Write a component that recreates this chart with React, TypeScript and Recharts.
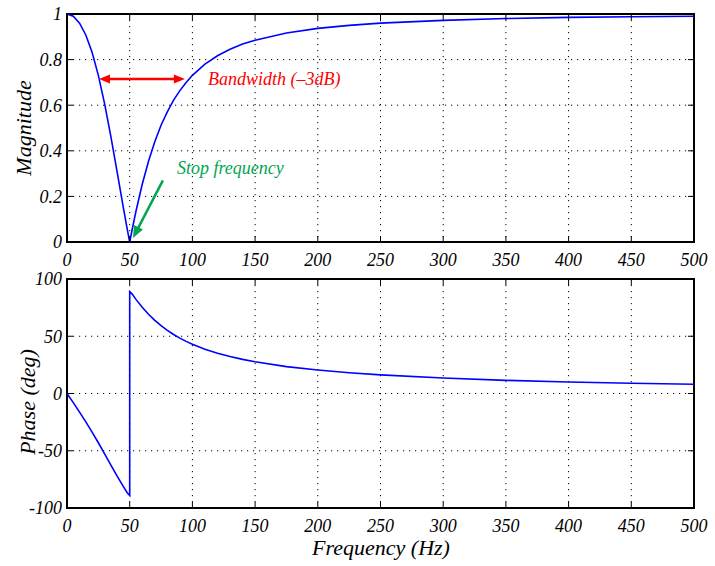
import React from "react";
import {
  LineChart,
  Line,
  XAxis,
  YAxis,
  CartesianGrid,
  ReferenceArea,
  ReferenceLine,
} from "recharts";

// frequency response of the 50 Hz notch
const freqHz = [
  0, 5, 10, 15, 20, 25, 30, 35, 40, 45, 48, 50, 50, 52, 55, 60, 65, 70, 75,
  80, 85, 90, 95, 100, 110, 120, 130, 140, 150, 175, 200, 225, 250, 300, 350,
  400, 450, 500,
];
const magnitude = [
  1, 0.99, 0.96, 0.908, 0.832, 0.731, 0.606, 0.462, 0.306, 0.149, 0.058, 0, 0,
  0.056, 0.135, 0.253, 0.354, 0.44, 0.512, 0.571, 0.622, 0.664, 0.7, 0.731,
  0.78, 0.817, 0.845, 0.868, 0.885, 0.917, 0.937, 0.95, 0.96, 0.972, 0.98,
  0.985, 0.988, 0.99,
];
const phaseDeg = [
  0, -8, -16.3, -24.8, -33.7, -43, -52.7, -62.5, -72.2, -81.4, -86.7, -89, 89,
  86.8, 82.2, 75.3, 69.2, 63.9, 59.2, 55.1, 51.5, 48.4, 45.5, 43, 38.7, 35.2,
  32.3, 29.8, 27.7, 23.5, 20.5, 18.1, 16.3, 13.5, 11.5, 10.1, 8.95, 8.05,
];

const freqTicks = [0, 50, 100, 150, 200, 250, 300, 350, 400, 450, 500];
const magTicks = [0, 0.2, 0.4, 0.6, 0.8, 1];
const phaseTicks = [-100, -50, 0, 50, 100];

// annotation anchors (data coordinates)
const bandwidthEdges = [25.5, 94];
const bandwidthLevel = 0.715;
const stopArrowFrom = { x: 76.5, y: 0.27 };
const stopArrowTo = { x: 52.6, y: 0.018 };

const data = freqHz.map((f, i) => ({
  f,
  mag: magnitude[i],
  phase: phaseDeg[i],
}));

const FONT = "'Liberation Serif', 'Times New Roman', serif";
const textStyle = { fontFamily: FONT, fontStyle: "italic" };
const PLOT_LEFT = 67;
const PLOT_RIGHT = 694;
const TICK_LEN = 6;
const X_MARGIN = 11;
const Y_MARGIN = 5;

const makeXTick = (plotTop: number) => (props: any) => {
  const { x, y, payload } = props;
  const axisY = y - X_MARGIN;
  return (
    <g>
      <line x1={x} x2={x} y1={axisY} y2={axisY - TICK_LEN} stroke='#000' />
      <line x1={x} x2={x} y1={plotTop} y2={plotTop + TICK_LEN} stroke='#000' />
      <text
        x={x}
        y={y}
        dy='0.71em'
        textAnchor='middle'
        style={{ ...textStyle, fontSize: 18 }}
        fill='#000'
      >
        {payload.value}
      </text>
    </g>
  );
};

const YTick = (props: any) => {
  const { x, y, payload } = props;
  return (
    <g>
      <line x1={PLOT_LEFT} x2={PLOT_LEFT + TICK_LEN} y1={y} y2={y} stroke='#000' />
      <line x1={PLOT_RIGHT} x2={PLOT_RIGHT - TICK_LEN} y1={y} y2={y} stroke='#000' />
      <text
        x={x}
        y={y}
        dy='0.355em'
        textAnchor='end'
        style={{ ...textStyle, fontSize: 18 }}
        fill='#000'
      >
        {payload.value}
      </text>
    </g>
  );
};

const head = (x: number, y: number, ang: number, len: number, w: number) => {
  const bx = x - len * Math.cos(ang);
  const by = y - len * Math.sin(ang);
  const px = (w / 2) * -Math.sin(ang);
  const py = (w / 2) * Math.cos(ang);
  return `${x},${y} ${bx + px},${by + py} ${bx - px},${by - py}`;
};

const DoubleArrow = (props: any) => {
  const { x1, y1, x2, y2 } = props;
  const ang = Math.atan2(y2 - y1, x2 - x1);
  return (
    <g>
      <line x1={x1 + 6} y1={y1} x2={x2 - 6} y2={y2} stroke='#ff0000' strokeWidth={2.5} />
      <polygon points={head(x2, y2, ang, 11, 9)} fill='#ff0000' />
      <polygon points={head(x1, y1, ang + Math.PI, 11, 9)} fill='#ff0000' />
    </g>
  );
};

const SingleArrow = (props: any) => {
  const { x1, y1, x2, y2 } = props;
  const ang = Math.atan2(y2 - y1, x2 - x1);
  return (
    <g>
      <line
        x1={x1}
        y1={y1}
        x2={x2 - 8 * Math.cos(ang)}
        y2={y2 - 8 * Math.sin(ang)}
        stroke='#00a651'
        strokeWidth={2.5}
      />
      <polygon points={head(x2, y2, ang, 12, 10)} fill='#00a651' />
    </g>
  );
};

const gridProps = {
  stroke: "#000",
  strokeDasharray: "1.2 4.8",
  strokeWidth: 1,
};

const App = () => {
  return (
    <div style={{ position: "absolute", left: 0, top: 0, width: 715, height: 566, background: "#fff" }}>
      <div style={{ position: "absolute", left: 0, top: 0 }}>
        <LineChart
          width={715}
          height={270}
          data={data}
          margin={{ top: 14, right: 21, bottom: 0, left: 17 }}
        >
          <CartesianGrid {...gridProps} />
          <XAxis
            dataKey='f'
            type='number'
            domain={[0, 500]}
            ticks={freqTicks}
            interval={0}
            height={28}
            tickSize={0}
            tickMargin={X_MARGIN}
            axisLine={false}
            tickLine={false}
            tick={makeXTick(14)}
          />
          <YAxis
            type='number'
            domain={[0, 1]}
            ticks={magTicks}
            interval={0}
            width={50}
            tickSize={0}
            tickMargin={Y_MARGIN}
            axisLine={false}
            tickLine={false}
            tick={YTick}
          />
          <Line
            dataKey='mag'
            type='linear'
            stroke='#0000ff'
            strokeWidth={1.6}
            dot={false}
            isAnimationActive={false}
          />
          <ReferenceLine
            segment={[
              { x: bandwidthEdges[0], y: bandwidthLevel },
              { x: bandwidthEdges[1], y: bandwidthLevel },
            ]}
            shape={DoubleArrow}
          />
          <ReferenceLine
            segment={[stopArrowFrom, stopArrowTo]}
            shape={SingleArrow}
          />
          <ReferenceArea
            x1={0}
            x2={500}
            y1={0}
            y2={1}
            fill='none'
            stroke='#000'
            strokeWidth={2}
          />
        </LineChart>
      </div>
      <div style={{ position: "absolute", left: 0, top: 250 }}>
        <LineChart
          width={715}
          height={316}
          data={data}
          margin={{ top: 29, right: 21, bottom: 30, left: 17 }}
        >
          <CartesianGrid {...gridProps} />
          <XAxis
            dataKey='f'
            type='number'
            domain={[0, 500]}
            ticks={freqTicks}
            interval={0}
            height={28}
            tickSize={0}
            tickMargin={X_MARGIN}
            axisLine={false}
            tickLine={false}
            tick={makeXTick(29)}
          />
          <YAxis
            type='number'
            domain={[-100, 100]}
            ticks={phaseTicks}
            interval={0}
            width={50}
            tickSize={0}
            tickMargin={Y_MARGIN}
            axisLine={false}
            tickLine={false}
            tick={YTick}
          />
          <Line
            dataKey='phase'
            type='linear'
            stroke='#0000ff'
            strokeWidth={1.6}
            dot={false}
            isAnimationActive={false}
          />
          <ReferenceArea
            x1={0}
            x2={500}
            y1={-100}
            y2={100}
            fill='none'
            stroke='#000'
            strokeWidth={2}
          />
        </LineChart>
      </div>
      <svg
        width={715}
        height={566}
        style={{ position: "absolute", left: 0, top: 0, pointerEvents: "none" }}
      >
        <g style={textStyle}>
          <text x={31} y={128} fontSize={22} textAnchor='middle' transform='rotate(-90 31 128)'>
            Magnitude
          </text>
          <text x={35} y={402} fontSize={22} textAnchor='middle' transform='rotate(-90 35 402)'>
            Phase (deg)
          </text>
          <text x={381} y={555} fontSize={22} textAnchor='middle'>
            Frequency (Hz)
          </text>
          <text x={208} y={85} fontSize={18} fill='#ff0000'>
            Bandwidth (–3dB)
          </text>
          <text x={177} y={174} fontSize={18} fill='#00a651'>
            Stop frequency
          </text>
        </g>
      </svg>
    </div>
  );
};

export default App;
